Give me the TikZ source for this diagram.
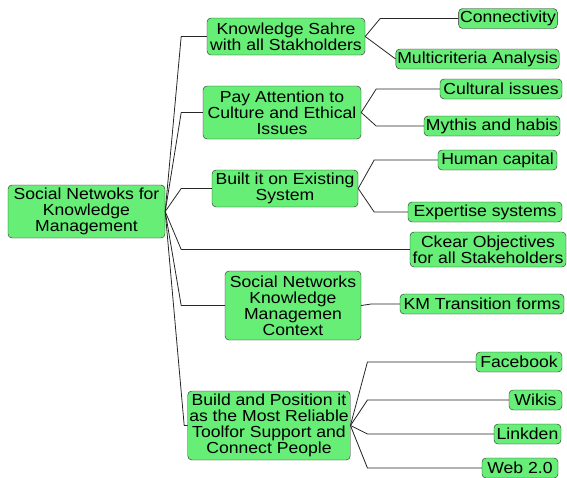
\documentclass[tikz,border=0pt]{standalone}
\usepackage{fontspec}
\setmainfont{Liberation Sans}[FakeStretch=1.1]
\usepackage{xcolor,tikz}
\usetikzlibrary{calc}
\definecolor{nodegreen}{RGB}{102,238,119}
\begin{document}
\begin{tikzpicture}[x=1pt,y=-1pt,
  font=\fontsize{16}{16}\selectfont,
  box/.style={draw=black!85,rounded corners=4pt,fill=nodegreen,align=center,inner sep=1.5pt},
  leaf/.style={box,minimum height=20}, link/.style={draw=black!85,line width=0.8pt}]
\useasboundingbox (0,0) rectangle (567,477);
\node[box,minimum width=157,minimum height=53] (root) at (86.5,211.5) {Social Netwoks for\\ Knowledge\\ Management};
\node[box,minimum width=158,minimum height=37] (share) at (286,36.5) {Knowledge Sahre\\ with all Stakholders};
\node[box,minimum width=158,minimum height=53] (culture) at (282,112.5) {Pay Attention to\\ Culture and Ethical\\ Issues};
\node[box,minimum width=146,minimum height=37] (built) at (285,188.5) {Built it on Existing\\ System};
\node[box,minimum width=156,minimum height=35] (clear) at (488,249.5) {Ckear Objectives\\ for all Stakeholders};
\node[box,minimum width=136,minimum height=69] (context) at (293,305.5) {Social Networks\\ Knowledge\\ Managemen\\ Context};
\node[box,minimum width=162,minimum height=69] (tool) at (269,425.5) {Build and Position it\\ as the Most Reliable\\ Toolfor Support and\\ Connect People};
\node[leaf,minimum width=98] (conn) at (508,18.5) {Connectivity};
\node[leaf,minimum width=161] (multi) at (477.5,59) {Multicriteria Analysis};
\node[leaf,minimum width=122] (cult) at (501,89) {Cultural issues};
\node[leaf,minimum width=136] (myth) at (492,126) {Mythis and habis};
\node[leaf,minimum width=119] (human) at (497.5,160) {Human capital};
\node[leaf,minimum width=154] (expert) at (485,212) {Expertise systems};
\node[leaf,minimum width=164] (km) at (482,304) {KM Transition forms};
\node[leaf,minimum width=86] (fb) at (519,362) {Facebook};
\node[leaf,minimum width=53] (wiki) at (535.5,400) {Wikis};
\node[leaf,minimum width=67] (lnk) at (527.5,434) {Linkden};
\node[leaf,minimum width=76] (web) at (520,468) {Web 2.0};
% root branches
\draw[link] (root.east) -- ($(root.east |- share.west)+(16,0)$) -- (share.west);
\draw[link] (root.east) -- ($(root.east |- culture.west)+(16,0)$) -- (culture.west);
\draw[link] (root.east) -- ($(root.east |- built.west)+(16,0)$) -- (built.west);
\draw[link] (root.east) -- ($(root.east |- clear.west)+(16,0)$) -- (clear.west);
\draw[link] (root.east) -- ($(root.east |- context.west)+(16,0)$) -- (context.west);
\draw[link] (root.east) -- ($(root.east |- tool.west)+(19,0)$) -- (tool.west);
% second level
\draw[link] (share.east) -- ($(share.east |- conn.west)+(15,0)$) -- (conn.west);
\draw[link] (share.east) -- (multi.west);
\draw[link] (culture.east) -- ($(culture.east |- cult.west)+(15,0)$) -- (cult.west);
\draw[link] (culture.east) -- ($(culture.east |- myth.west)+(15,0)$) -- (myth.west);
\draw[link] (built.east) -- ($(built.east |- human.west)+(16,0)$) -- (human.west);
\draw[link] (built.east) -- ($(built.east |- expert.west)+(16,0)$) -- (expert.west);
\draw[link] (context.east) -- ($(context.east |- km.west)+(10,0)$) -- (km.west);
\draw[link] (tool.east) -- ($(tool.east |- fb.west)+(17,0)$) -- (fb.west);
\draw[link] (tool.east) -- ($(tool.east |- wiki.west)+(17,0)$) -- (wiki.west);
\draw[link] (tool.east) -- ($(tool.east |- lnk.west)+(17,0)$) -- (lnk.west);
\draw[link] (tool.east) -- ($(tool.east |- web.west)+(17,0)$) -- (web.west);
\end{tikzpicture}
\end{document}
